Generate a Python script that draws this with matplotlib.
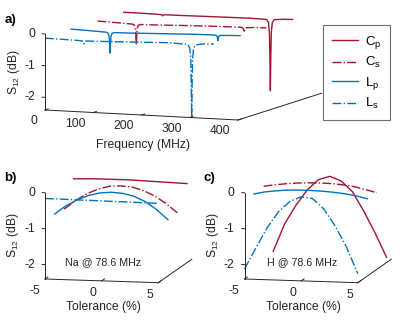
import numpy as np
import matplotlib
matplotlib.use('Agg')
import matplotlib.pyplot as plt
from mpl_toolkits.mplot3d import proj3d

plt.rcParams['font.family'] = ['Liberation Sans', 'DejaVu Sans']
plt.rcParams['mathtext.fontset'] = 'custom'
plt.rcParams['mathtext.rm'] = 'Liberation Sans'
plt.rcParams['mathtext.it'] = 'Liberation Sans:italic'
plt.rcParams['mathtext.default'] = 'regular'

W, H = 400, 324
TXT = '#262626'
RED = '#A2142F'
BLUE = '#0072BD'

# ---- data ----
labels = [r'C$_p$', r'C$_s$', r'L$_p$', r'L$_s$']
depth = [4, 3, 2, 1]   # Cp at the back, Ls in front

# a) S12 vs frequency (MHz)
freq = [0, 40, 72.5, 76.5, 78.5, 79.5, 80.5, 81.5, 82.5, 84.5, 88.5, 120, 200, 260,
        296, 300, 302, 303, 304, 305, 306, 308, 312, 330, 350]
a_Cp = [-0.11, -0.11, -0.12, -0.122, -0.128, -0.14, -0.16, -0.14, -0.128, -0.122, -0.12,
        -0.115, -0.10, -0.09,
        -0.10, -0.19, -0.51, -1.2, -2.35, -1.2, -0.51, -0.19, -0.095, -0.07, -0.06]
a_Cs = [-0.12, -0.14, -0.16, -0.19, -0.28, -0.48, -0.81, -0.48, -0.28, -0.19, -0.16,
        -0.15, -0.11, -0.09,
        -0.082, -0.09, -0.112, -0.16, -0.24, -0.16, -0.112, -0.09, -0.082, -0.065, -0.06]
a_Lp = [-0.11, -0.13, -0.15, -0.18, -0.27, -0.47, -0.80, -0.47, -0.27, -0.18, -0.15,
        -0.14, -0.10, -0.07,
        -0.063, -0.07, -0.094, -0.145, -0.23, -0.145, -0.094, -0.07, -0.063, -0.05, -0.04]
a_Ls = [-0.13, -0.14, -0.15, -0.156, -0.17, -0.20, -0.25, -0.20, -0.17, -0.156, -0.152,
        -0.14, -0.10, -0.07,
        -0.095, -0.20, -0.53, -1.23, -2.40, -1.23, -0.53, -0.20, -0.095, -0.05, -0.04]

# b) / c) S12 vs component tolerance (%)
tol = [-5, -4, -3, -2, -1, 0, 1, 2, 3, 4, 5]
b_Cp = [-0.17, -0.16, -0.15, -0.15, -0.15, -0.15, -0.16, -0.17, -0.18, -0.19, -0.20]
b_Cs = [-0.83, -0.58, -0.38, -0.24, -0.15, -0.13, -0.15, -0.24, -0.38, -0.58, -0.83]
b_Lp = [-0.78, -0.54, -0.36, -0.23, -0.15, -0.12, -0.14, -0.21, -0.35, -0.56, -0.83]
b_Ls = [-0.16, -0.16, -0.165, -0.17, -0.17, -0.175, -0.18, -0.18, -0.185, -0.19, -0.19]

c_Cp = [-2.19, -1.42, -0.89, -0.45, -0.15, -0.05, -0.17, -0.46, -0.99, -1.59, -2.25]
c_Cs = [-0.19, -0.14, -0.10, -0.07, -0.055, -0.05, -0.055, -0.08, -0.12, -0.19, -0.27]
c_Lp = [-0.22, -0.15, -0.11, -0.08, -0.07, -0.07, -0.08, -0.10, -0.13, -0.18, -0.25]
c_Ls = [-2.12, -1.53, -0.95, -0.50, -0.20, -0.06, -0.10, -0.38, -0.84, -1.42, -2.15]

styles = [dict(color=RED, ls='-'), dict(color=RED, ls='-.'),
          dict(color=BLUE, ls='-'), dict(color=BLUE, ls='-.')]

fig = plt.figure(figsize=(4, 3.24), dpi=100)


def to_px(ax, x, y, z):
    xs, ys, _ = proj3d.proj_transform(np.atleast_1d(x), np.atleast_1d(y),
                                      np.atleast_1d(z), ax.get_proj())
    d = ax.transData.transform(np.column_stack([xs, ys]))
    return d[0, 0], H - d[0, 1]


def make_panel(rect, xlim, ylim, zlim, aspect, elev, azim):
    ax = fig.add_axes(rect, projection='3d', proj_type='ortho')
    ax.set_xlim(xlim)
    ax.set_ylim(ylim)
    ax.set_zlim(zlim)
    ax.set_box_aspect(aspect)
    ax.view_init(elev=elev, azim=azim)
    ax.set_axis_off()
    ax.set_facecolor('none')
    return ax


def fit(ax, aspect, p0, p1, t0, t1):
    # scale and shift the projected box so two corners land on target pixels
    fig.canvas.draw()
    x0, _ = to_px(ax, *p0)
    x1, _ = to_px(ax, *p1)
    ax.set_box_aspect(aspect, zoom=(t1[0] - t0[0]) / (x1 - x0))
    fig.canvas.draw()
    x0, y0 = to_px(ax, *p0)
    pos = ax.get_position(original=True)
    ax.set_position([pos.x0 + (t0[0] - x0) / W, pos.y0 - (t0[1] - y0) / H,
                     pos.width, pos.height])
    fig.canvas.draw()


def frame(ax, xlim, ylim, zlim, xticks, zticks, xt_len, zt_len):
    x0, x1 = xlim
    y0, y1 = ylim
    z0, z1 = zlim
    kw = dict(color=TXT, lw=0.7, clip_on=False)
    ax.plot([x0, x1], [y0, y0], [z0, z0], **kw)
    ax.plot([x0, x0], [y0, y0], [z0, z1], **kw)
    ax.plot([x1, x1], [y0, y1], [z0, z0], **kw)
    for t in xticks:
        ax.plot([t, t], [y0, y0 + xt_len], [z0, z0], **kw)
    for z in zticks:
        ax.plot([x0, x0 - zt_len], [y0, y0], [z, z], **kw)


def tick_labels(ax, xlim, ylim, zlim, xticks, zticks, xoff, zoff):
    for t in xticks:
        px, py = to_px(ax, t, ylim[0], zlim[0])
        fig.text((px + xoff[0]) / W, 1 - (py + xoff[1]) / H, f'{t:g}',
                 ha='right', va='center', fontsize=8.7, color=TXT)
    for z in zticks:
        px, py = to_px(ax, xlim[0], ylim[0], z)
        fig.text((px + zoff) / W, 1 - py / H, f'{z:g}',
                 ha='right', va='center', fontsize=8.7, color=TXT)


# ---- panel a ----
xa, ya, za = (0, 400), (1, 4.2), (-2.4, 0)
asp_a = (208, 225, 76.6)
ax_a = make_panel([0.0, 0.5, 0.8, 0.5], xa, ya, za, asp_a, 7.4, -68.1)
handles = []
for vals, d, st, lab in zip([a_Cp, a_Cs, a_Lp, a_Ls], depth, styles, labels):
    ln, = ax_a.plot(freq, [d] * len(freq), vals, lw=1.0, clip_on=False, label=lab, **st)
    handles.append(ln)
xt_a = [0, 100, 200, 300, 400]
zt = [0, -1, -2]
frame(ax_a, xa, ya, za, xt_a, zt, 0.12, 6)
fit(ax_a, asp_a, (0, 1, -2.4), (400, 1, -2.4), (45, 110), (238, 120))
tick_labels(ax_a, xa, ya, za, xt_a, zt, (-8, 11.5), -10)

# ---- panels b, c ----
xb, yb = (-5, 5), (1, 4.5)
asp_b = (115.6, 158, 87)
panels = [([0.0, 0.0, 0.5, 0.5], [b_Cp, b_Cs, b_Lp, b_Ls], 45),
          ([0.5, 0.0, 0.5, 0.5], [c_Cp, c_Cs, c_Lp, c_Ls], 244.5)]
for rect, data, x_left in panels:
    ax = make_panel(rect, xb, yb, za, asp_b, 8.7, -77.8)
    for vals, d, st in zip(data, depth, styles):
        ax.plot(tol, [d] * len(tol), vals, lw=1.0, clip_on=False, **st)
    frame(ax, xb, yb, za, [-5, 0, 5], zt, 0.3, 0.25)
    fit(ax, asp_b, (-5, 1, -2.4), (5, 1, -2.4), (x_left, 279), (x_left + 113.3, 282.7))
    tick_labels(ax, xb, yb, za, [-5, 0, 5], zt, (-5, 12), -10)

# ---- text ----
def ftext(x, y, s, **kw):
    kw.setdefault('fontsize', 8.7)
    kw.setdefault('color', TXT)
    fig.text(x / W, 1 - y / H, s, ha='center', va='center', **kw)


ftext(10.5, 20, 'a)', fontsize=9.5, fontweight='bold', color='black')
ftext(10.5, 178, 'b)', fontsize=9.5, fontweight='bold', color='black')
ftext(209, 178, 'c)', fontsize=9.5, fontweight='bold', color='black')
ftext(143, 145, 'Frequency (MHz)')
ftext(14, 72, r'S$_{12}$ (dB)', rotation=90)
ftext(13, 235, r'S$_{12}$ (dB)', rotation=90)
ftext(213, 235, r'S$_{12}$ (dB)', rotation=90)
ftext(103, 306.7, 'Tolerance (%)')
ftext(303, 306.7, 'Tolerance (%)')
ftext(103.3, 261.7, 'Na @ 78.6 MHz', fontsize=7.7)
ftext(302.5, 262, 'H @ 78.6 MHz', fontsize=7.7)

leg = fig.legend(handles=handles, loc='upper left',
                 bbox_to_anchor=(323.3 / W, 1 - 25 / H), bbox_transform=fig.transFigure,
                 borderaxespad=0, fontsize=9.5, handlelength=1.95, handletextpad=0.5,
                 labelspacing=0.33, borderpad=0.68, fancybox=False, framealpha=1,
                 edgecolor='#6e6e6e', labelcolor='black')
leg.get_frame().set_linewidth(0.8)

fig.savefig('out.png', dpi=100)
